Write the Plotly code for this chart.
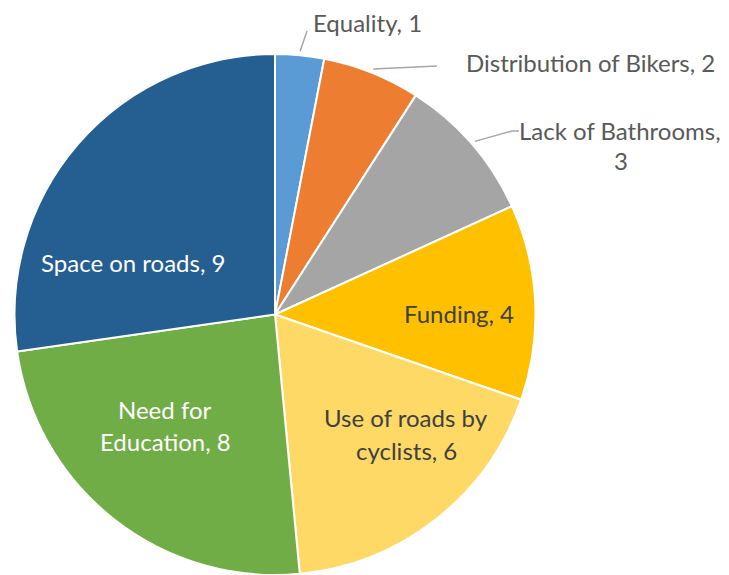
import math
import plotly.graph_objects as go

labels = ["Equality", "Distribution of Bikers", "Lack of Bathrooms", "Funding",
          "Use of roads by cyclists", "Need for Education", "Space on roads"]
values = [1, 2, 3, 4, 6, 8, 9]
colors = ["#5B9BD5", "#ED7D31", "#A5A5A5", "#FFC000", "#FFD966", "#70AD47", "#255E91"]

# page has an 8px body margin; work in screen pixels and convert
OFF = 8
W, H = 729 - OFF, 575 - OFF
CX, CY, R = 275.0, 314.5, 260.5

def px(x):
    return (x - OFF) / W

def py(y):
    return 1 - (y - OFF) / H

fig = go.Figure(go.Pie(
    labels=labels, values=values, sort=False, direction="clockwise", rotation=0,
    marker=dict(colors=colors, line=dict(color="white", width=2)),
    textinfo="none", hoverinfo="label+value",
    domain=dict(x=[px(CX - R), px(CX + R)], y=[0, py(CY - R)]),
    showlegend=False,
))

FONT = "Lato"
FS = 24
OUT = "#595959"
DARK = "#404040"
LIGHT = "#FFFFFF"

# label text lines: (text, x px, y px, anchor, color)
label_lines = [
    [("Equality, 1", 311, 22, "left", OUT)],
    [("Distribution of Bikers, 2", 464, 62, "left", OUT)],
    [("Lack of Bathrooms,", 620, 130, "center", OUT), ("3", 621, 161, "center", OUT)],
    [("Funding, 4", 459, 313, "center", DARK)],
    [("Use of roads by", 406, 417, "center", DARK), ("cyclists, 6", 406, 450, "center", DARK)],
    [("Need for", 165, 409, "center", LIGHT), ("Education, 8", 165, 441, "center", LIGHT)],
    [("Space on roads, 9", 133, 262, "center", LIGHT)],
]

annotations = []
for i, lines in enumerate(label_lines):
    for text, x, y, anchor, col in lines:
        annotations.append(dict(
            text=text, x=px(x), y=py(y), xref="paper", yref="paper",
            xanchor=anchor, yanchor="middle", showarrow=False,
            font=dict(family=FONT, size=FS, color=col),
        ))

# leader lines for the three small slices: start at slice mid-angle on the rim
leader_ends = {0: [(307, 31)], 1: [(437, 66)], 2: [(512, 131), (519, 131)]}
total = sum(values)
shapes = []
cum = 0
for i, v in enumerate(values):
    mid = (cum + v / 2) / total * 2 * math.pi
    cum += v
    if i in leader_ends:
        sx = CX + 1.015 * R * math.sin(mid)
        sy = CY - 1.015 * R * math.cos(mid)
        pts = [(sx, sy)] + leader_ends[i]
        path = "M " + " L ".join(f"{px(x)},{py(y)}" for x, y in pts)
        shapes.append(dict(type="path", path=path, xref="paper", yref="paper",
                           line=dict(color="#A6A6A6", width=1.5)))

fig.update_layout(
    width=W, height=H, margin=dict(l=0, r=0, t=0, b=0),
    paper_bgcolor="white", plot_bgcolor="white",
    annotations=annotations, shapes=shapes,
)

fig.write_html("out.html")
